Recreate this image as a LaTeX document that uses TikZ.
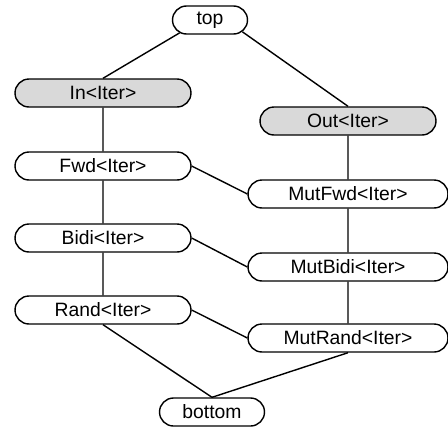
\documentclass[tikz,border=0pt]{standalone}
\usepackage{fontspec}
\setmainfont{Liberation Sans}
\usetikzlibrary{shapes.misc}

\tikzset{
    iter/.style={rounded rectangle, draw, thick, inner sep=0pt,
        minimum height=0.56cm, font=\fontsize{11}{13}\selectfont},
    concept/.style={iter, fill=gray!30},
}

\begin{document}
\begin{tikzpicture}[x=0.02cm, y=-0.02cm]
    \useasboundingbox (0, 0) rectangle (448, 426);

    \node[iter, minimum width=1.5cm] (top) at (210, 20) {top};
    \node[concept, minimum width=3.52cm] (in) at (103, 93) {In<Iter>};
    \node[concept, minimum width=3.52cm] (out) at (348, 121) {Out<Iter>};

    \node[iter, minimum width=3.52cm] (fwd) at (103, 166) {Fwd<Iter>};
    \node[iter, minimum width=3.52cm] (bidi) at (103, 238) {Bidi<Iter>};
    \node[iter, minimum width=3.52cm] (rand) at (103, 310) {Rand<Iter>};

    \node[iter, minimum width=4cm] (mutfwd) at (348, 194) {MutFwd<Iter>};
    \node[iter, minimum width=4cm] (mutbidi) at (348, 267) {MutBidi<Iter>};
    \node[iter, minimum width=4cm] (mutrand) at (348, 338) {MutRand<Iter>};

    \node[iter, minimum width=2.1cm] (bottom) at (212, 412) {bottom};

    \draw[thick] (top.203) -- (in.north);
    \draw[thick] (top.340) -- (out.north);

    \draw[thick] (in) -- (fwd);
    \draw[thick] (fwd) -- (bidi);
    \draw[thick] (bidi) -- (rand);
    \draw[thick] (out) -- (mutfwd);
    \draw[thick] (mutfwd) -- (mutbidi);
    \draw[thick] (mutbidi) -- (mutrand);

    \draw[thick] (fwd.east) -- (mutfwd.west);
    \draw[thick] (bidi.east) -- (mutbidi.west);
    \draw[thick] (rand.east) -- (mutrand.west);

    \draw[thick] (rand.south) -- (bottom.north);
    \draw[thick] (mutrand.south) -- (bottom.north);
\end{tikzpicture}
\end{document}
